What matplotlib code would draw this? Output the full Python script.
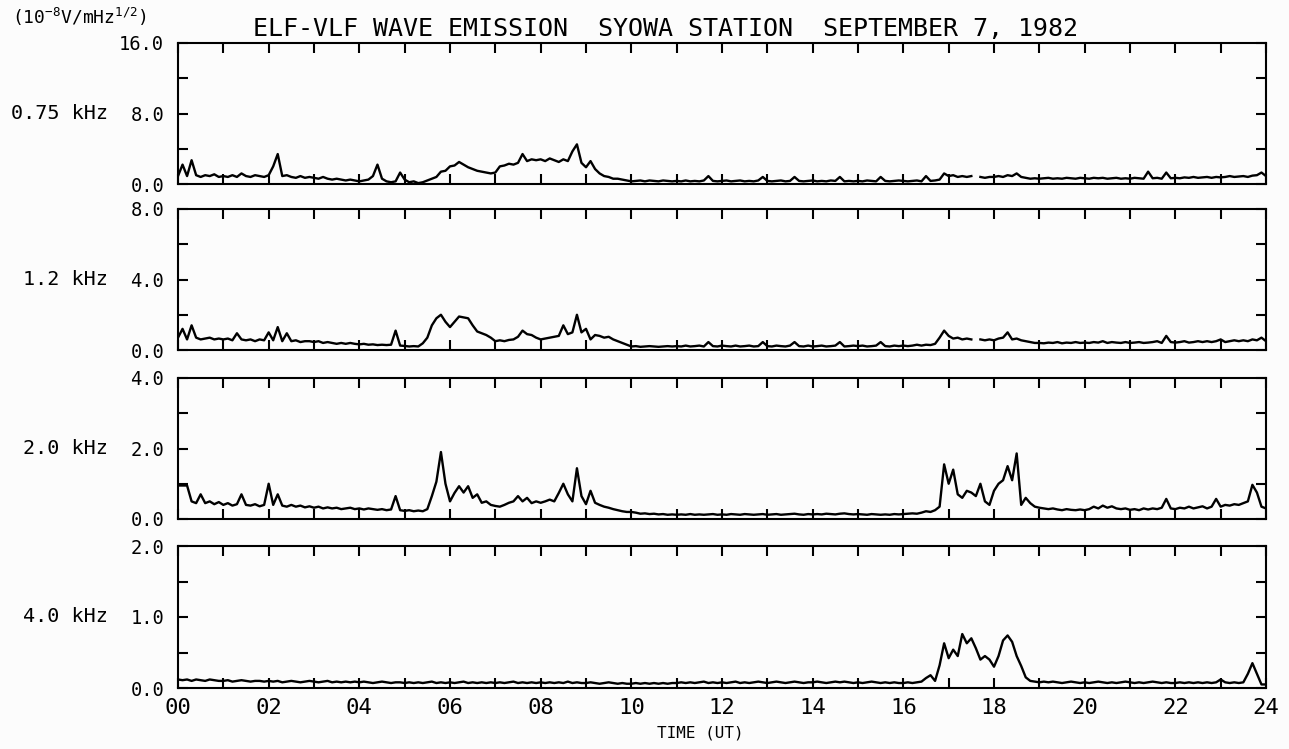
import numpy as np
import matplotlib.pyplot as plt
from matplotlib.ticker import FormatStrFormatter

plt.rcParams['font.family'] = 'DejaVu Sans Mono'
plt.rcParams['mathtext.default'] = 'regular'

# sample times, every 0.1 h (6 min)
hours = np.linspace(0, 24, 241)
nan = np.nan

# 0.75 kHz, one row per hour
amp_075 = [
    0.9, 2.2, 0.9, 2.7, 1.0, 0.8, 1.0, 0.9, 1.1, 0.8,
    0.9, 0.8, 1.0, 0.8, 1.2, 0.9, 0.8, 1.0, 0.9, 0.8,
    1.0, 2.0, 3.4, 0.9, 1.0, 0.8, 0.7, 0.9, 0.7, 0.8,
    0.7, 0.6, 0.8, 0.6, 0.5, 0.6, 0.5, 0.4, 0.5, 0.4,
    0.3, 0.4, 0.5, 0.9, 2.2, 0.6, 0.3, 0.2, 0.3, 1.3,
    0.5, 0.2, 0.3, 0.1, 0.2, 0.4, 0.6, 0.8, 1.4, 1.5,
    2.0, 2.1, 2.5, 2.2, 1.9, 1.7, 1.5, 1.4, 1.3, 1.2,
    1.3, 2.0, 2.1, 2.3, 2.2, 2.4, 3.4, 2.6, 2.8, 2.7,
    2.8, 2.6, 2.9, 2.7, 2.5, 2.8, 2.6, 3.7, 4.5, 2.4,
    1.9, 2.6, 1.7, 1.2, 0.9, 0.8, 0.6, 0.6, 0.5, 0.4,
    0.3, 0.35, 0.4, 0.3, 0.4, 0.35, 0.3, 0.4, 0.35, 0.3,
    0.35, 0.3, 0.4, 0.3, 0.35, 0.3, 0.4, 0.9, 0.35, 0.3,
    0.35, 0.4, 0.3, 0.35, 0.4, 0.3, 0.35, 0.3, 0.4, 0.8,
    0.35, 0.3, 0.35, 0.4, 0.3, 0.35, 0.8, 0.35, 0.3, 0.35,
    0.4, 0.3, 0.35, 0.3, 0.4, 0.35, 0.8, 0.3, 0.35, 0.3,
    0.35, 0.3, 0.4, 0.35, 0.3, 0.8, 0.35, 0.3, 0.35, 0.4,
    0.35, 0.3, 0.35, 0.4, 0.3, 0.9, 0.35, 0.4, 0.5, 1.2,
    0.9, 1.0, 0.8, 0.9, 0.8, 0.9, nan, 0.8, 0.7, 0.8,
    0.8, 0.9, 0.8, 1.0, 0.9, 1.2, 0.8, 0.7, 0.6, 0.65,
    0.6, 0.65, 0.7, 0.6, 0.65, 0.6, 0.7, 0.65, 0.6, 0.7,
    0.65, 0.6, 0.7, 0.65, 0.7, 0.6, 0.65, 0.7, 0.6, 0.65,
    0.6, 0.7, 0.65, 0.6, 1.4, 0.65, 0.7, 0.6, 1.3, 0.65,
    0.7, 0.65, 0.75, 0.7, 0.8, 0.7, 0.75, 0.8, 0.7, 0.8,
    0.75, 0.8, 0.9, 0.8, 0.85, 0.9, 0.8, 0.95, 1.0, 1.3,
    0.9,
]

# 1.2 kHz
amp_12 = [
    0.7, 1.2, 0.6, 1.4, 0.7, 0.6, 0.65, 0.7, 0.6, 0.65,
    0.6, 0.65, 0.55, 0.95, 0.6, 0.55, 0.6, 0.5, 0.6, 0.55,
    1.0, 0.55, 1.3, 0.5, 0.95, 0.5, 0.55, 0.45, 0.5, 0.5,
    0.45, 0.5, 0.4, 0.45, 0.4, 0.35, 0.4, 0.35, 0.4, 0.35,
    0.32, 0.35, 0.3, 0.32, 0.28, 0.3, 0.28, 0.3, 1.1, 0.25,
    0.23, 0.2, 0.22, 0.2, 0.38, 0.7, 1.4, 1.8, 2.0, 1.6,
    1.3, 1.6, 1.9, 1.85, 1.8, 1.4, 1.05, 0.95, 0.85, 0.7,
    0.5, 0.55, 0.5, 0.57, 0.6, 0.75, 1.1, 0.9, 0.85, 0.7,
    0.6, 0.65, 0.7, 0.75, 0.8, 1.4, 0.9, 1.0, 2.0, 1.0,
    1.2, 0.6, 0.85, 0.8, 0.7, 0.75, 0.6, 0.5, 0.4, 0.3,
    0.2, 0.22, 0.18, 0.2, 0.22, 0.2, 0.18, 0.2, 0.22, 0.2,
    0.22, 0.2, 0.25, 0.2, 0.22, 0.25, 0.2, 0.45, 0.22, 0.2,
    0.25, 0.22, 0.2, 0.25, 0.2, 0.22, 0.25, 0.2, 0.22, 0.45,
    0.22, 0.2, 0.25, 0.22, 0.2, 0.25, 0.45, 0.22, 0.2, 0.25,
    0.2, 0.22, 0.25, 0.2, 0.22, 0.25, 0.45, 0.2, 0.22, 0.25,
    0.22, 0.25, 0.2, 0.22, 0.25, 0.45, 0.22, 0.2, 0.25, 0.22,
    0.25, 0.22, 0.25, 0.3, 0.25, 0.3, 0.28, 0.35, 0.7, 1.1,
    0.8, 0.65, 0.7, 0.6, 0.65, 0.6, nan, 0.6, 0.55, 0.6,
    0.55, 0.65, 0.7, 1.0, 0.6, 0.65, 0.55, 0.5, 0.45, 0.4,
    0.4, 0.38, 0.42, 0.4, 0.45, 0.38, 0.42, 0.4, 0.45, 0.4,
    0.42, 0.4, 0.45, 0.42, 0.5, 0.4, 0.45, 0.42, 0.4, 0.45,
    0.4, 0.42, 0.45, 0.4, 0.42, 0.45, 0.5, 0.4, 0.8, 0.45,
    0.42, 0.45, 0.5, 0.42, 0.45, 0.5, 0.45, 0.5, 0.45, 0.5,
    0.6, 0.45, 0.5, 0.55, 0.5, 0.55, 0.5, 0.6, 0.55, 0.7,
    0.5,
]

# 2.0 kHz
amp_20 = [
    0.95, 0.95, 0.95, 0.5, 0.45, 0.7, 0.45, 0.5, 0.42, 0.48,
    0.4, 0.45, 0.38, 0.42, 0.7, 0.4, 0.38, 0.42, 0.36, 0.4,
    1.0, 0.4, 0.7, 0.38, 0.35, 0.4, 0.35, 0.38, 0.33, 0.36,
    0.32, 0.35, 0.3, 0.33, 0.3, 0.32, 0.28, 0.3, 0.32, 0.28,
    0.3, 0.27, 0.3, 0.28, 0.26, 0.28, 0.25, 0.27, 0.65, 0.25,
    0.23, 0.25, 0.22, 0.24, 0.22, 0.28, 0.65, 1.06, 1.9, 1.0,
    0.5, 0.74, 0.93, 0.75, 0.93, 0.6, 0.7, 0.46, 0.5, 0.4,
    0.37, 0.35, 0.4, 0.46, 0.5, 0.65, 0.5, 0.6, 0.45, 0.5,
    0.46, 0.5, 0.55, 0.5, 0.74, 1.0, 0.7, 0.5, 1.44, 0.65,
    0.42, 0.8, 0.46, 0.4, 0.35, 0.32, 0.28, 0.25, 0.22, 0.2,
    0.2, 0.18, 0.15, 0.16, 0.14, 0.15, 0.13, 0.14, 0.12, 0.13,
    0.12, 0.13, 0.12, 0.14, 0.12, 0.13, 0.12, 0.13, 0.14, 0.12,
    0.13, 0.12, 0.14, 0.13, 0.12, 0.14, 0.13, 0.12, 0.13, 0.14,
    0.12, 0.13, 0.14, 0.12, 0.13, 0.14, 0.15, 0.13, 0.12, 0.14,
    0.13, 0.14, 0.13, 0.15, 0.14, 0.13, 0.15, 0.16, 0.14, 0.13,
    0.14, 0.13, 0.12, 0.14, 0.13, 0.12, 0.13, 0.12, 0.14, 0.13,
    0.14, 0.15, 0.16, 0.15, 0.18, 0.22, 0.2, 0.25, 0.35, 1.55,
    1.0, 1.4, 0.7, 0.6, 0.8, 0.75, 0.65, 1.0, 0.5, 0.4,
    0.8, 1.0, 1.1, 1.5, 1.1, 1.86, 0.4, 0.6, 0.45, 0.35,
    0.32, 0.3, 0.28, 0.3, 0.27, 0.25, 0.28, 0.26, 0.25, 0.27,
    0.25, 0.28, 0.35, 0.3, 0.38, 0.32, 0.36, 0.3, 0.28, 0.3,
    0.26, 0.28, 0.25, 0.3, 0.27, 0.3, 0.28, 0.32, 0.57, 0.3,
    0.28, 0.32, 0.3, 0.35, 0.3, 0.33, 0.36, 0.3, 0.35, 0.57,
    0.35, 0.4, 0.38, 0.42, 0.4, 0.45, 0.5, 0.97, 0.75, 0.35,
    0.3,
]

# 4.0 kHz
amp_40 = [
    0.12, 0.11, 0.12, 0.1, 0.12, 0.11, 0.1, 0.12, 0.11, 0.1,
    0.1, 0.11, 0.09, 0.1, 0.11, 0.1, 0.09, 0.1, 0.1, 0.09,
    0.1, 0.09, 0.1, 0.08, 0.09, 0.1, 0.09, 0.08, 0.09, 0.1,
    0.09, 0.08, 0.09, 0.1, 0.08, 0.09, 0.08, 0.09, 0.08, 0.09,
    0.08, 0.09, 0.08, 0.07, 0.08, 0.09, 0.08, 0.07, 0.08, 0.08,
    0.07, 0.08, 0.07, 0.08, 0.07, 0.08, 0.09, 0.07, 0.08, 0.07,
    0.08, 0.07, 0.08, 0.09, 0.07, 0.08, 0.07, 0.08, 0.07, 0.08,
    0.07, 0.08, 0.07, 0.08, 0.09, 0.07, 0.08, 0.07, 0.08, 0.07,
    0.08, 0.07, 0.08, 0.07, 0.08, 0.07, 0.09, 0.07, 0.08, 0.07,
    0.07, 0.08, 0.07, 0.06, 0.07, 0.08, 0.07, 0.06, 0.07, 0.06,
    0.06, 0.07, 0.06, 0.07, 0.06, 0.07, 0.06, 0.07, 0.06, 0.07,
    0.07, 0.08, 0.07, 0.08, 0.07, 0.08, 0.09, 0.07, 0.08, 0.07,
    0.08, 0.07, 0.08, 0.09, 0.07, 0.08, 0.07, 0.08, 0.09, 0.08,
    0.07, 0.08, 0.09, 0.08, 0.07, 0.08, 0.09, 0.08, 0.07, 0.08,
    0.08, 0.09, 0.08, 0.07, 0.08, 0.09, 0.08, 0.09, 0.08, 0.07,
    0.08, 0.07, 0.08, 0.09, 0.08, 0.07, 0.08, 0.07, 0.08, 0.07,
    0.07, 0.08, 0.07, 0.08, 0.09, 0.14, 0.18, 0.1, 0.32, 0.63,
    0.42, 0.54, 0.45, 0.76, 0.63, 0.7, 0.56, 0.4, 0.45, 0.4,
    0.3, 0.45, 0.67, 0.74, 0.65, 0.45, 0.31, 0.15, 0.1, 0.09,
    0.08, 0.09, 0.08, 0.09, 0.08, 0.07, 0.08, 0.09, 0.08, 0.07,
    0.08, 0.07, 0.08, 0.09, 0.08, 0.07, 0.08, 0.07, 0.08, 0.09,
    0.08, 0.07, 0.08, 0.07, 0.08, 0.09, 0.08, 0.07, 0.08, 0.07,
    0.07, 0.08, 0.07, 0.08, 0.07, 0.08, 0.07, 0.08, 0.07, 0.08,
    0.12, 0.08, 0.07, 0.08, 0.07, 0.08, 0.2, 0.35, 0.2, 0.05,
    0.05,
]

series = [amp_075, amp_12, amp_20, amp_40]
freq_labels = ['0.75 kHz', '1.2 kHz', '2.0 kHz', '4.0 kHz']
y_max = [16.0, 8.0, 4.0, 2.0]
x_tick_labels = ['00', '02', '04', '06', '08', '10', '12',
                 '14', '16', '18', '20', '22', '24']

# panel layout in pixels of the 1289x749 picture
W, H = 1289, 749
left_px, right_px = 178, 1266
top_px = [43, 209, 378, 546]
bottom_px = [184, 350, 519, 688]

fig = plt.figure(figsize=(W / 100, H / 100), dpi=100, facecolor='#fcfcfc')

for i in range(4):
    ax = fig.add_axes([left_px / W, 1 - bottom_px[i] / H,
                       (right_px - left_px) / W, (bottom_px[i] - top_px[i]) / H])
    ax.set_facecolor('#fcfcfc')
    ax.plot(hours, series[i], color='black', lw=1.7)
    ax.set_xlim(0, 24)
    ax.set_ylim(0, y_max[i])

    ax.set_xticks(np.arange(0, 25, 2))
    ax.set_xticks(np.arange(0, 25, 1), minor=True)
    ax.set_xticklabels(x_tick_labels)
    top = y_max[i]
    ax.set_yticks([0, top / 2, top])
    ax.set_yticks([top / 4, 3 * top / 4], minor=True)
    ax.yaxis.set_major_formatter(FormatStrFormatter('%.1f'))

    ax.tick_params(which='both', direction='in', top=True, right=True,
                   length=7, width=1.5, color='black')
    ax.tick_params(axis='y', labelsize=13.5, pad=10)
    ax.tick_params(axis='x', labelsize=16, pad=7, labelbottom=(i == 3))
    for sp in ax.spines.values():
        sp.set_linewidth(1.5)

    mid_y = 1 - (top_px[i] + bottom_px[i]) / 2 / H
    fig.text(108 / W, mid_y, freq_labels[i], ha='right', va='center', fontsize=14.5)

fig.text(253 / W, 1 - 29 / H, 'ELF-VLF WAVE EMISSION  SYOWA STATION  SEPTEMBER 7, 1982',
         ha='left', va='center', fontsize=18)
fig.text(12 / W, 1 - 17 / H, r'(10$^{-8}$V/mHz$^{1/2}$)', ha='left', va='center', fontsize=13)
fig.text(700 / W, 1 - 733 / H, 'TIME (UT)', ha='center', va='center', fontsize=11.5)

fig.savefig('out.png', dpi=100, facecolor=fig.get_facecolor())
